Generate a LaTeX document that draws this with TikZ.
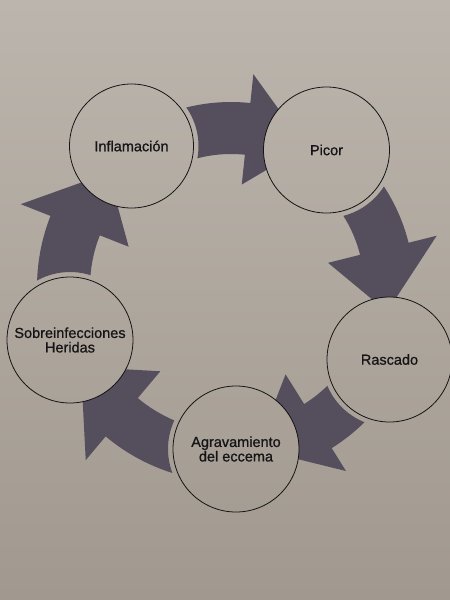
\documentclass[tikz,border=0pt]{standalone}
\usepackage{fontspec}
\newfontfamily\labfont[FakeBold=0.8]{Liberation Sans}
\definecolor{pagetop}{HTML}{BCB5AD}
\definecolor{pagebot}{HTML}{A1998F}
\definecolor{arrowcol}{HTML}{554E5C}
\definecolor{inkcol}{HTML}{151416}
% circle data (pixel units, y downwards)
\def\cxA{131.5}\def\cyA{146}\def\crA{62}
\def\cxB{326.5}\def\cyB{150}\def\crB{63}
\def\cxC{389.5}\def\cyC{359.5}\def\crC{62.5}
\def\cxD{236}\def\cyD{449}\def\crD{63}
\def\cxE{70}\def\cyE{340}\def\crE{63}
\def\ox{231}\def\oy{287}
% #1 source, #2 target, #3 inner r, #4 outer r, #5 tail angle, #6 head base angle,
% #7 inner barb r, #8 outer barb r, #9 tip angle
\newcommand\cyclearrow[9]{%
  \begin{scope}
    \clip (-20,-20) -- (-20,620) -- (470,620) -- (470,-20) -- cycle
      plot[domain=0:360,samples=121] ({\csname cx#1\endcsname+(\csname cr#1\endcsname+5)*cos(\x)},{\csname cy#1\endcsname+(\csname cr#1\endcsname+5)*sin(\x)}) -- cycle
      plot[domain=0:360,samples=121] ({\csname cx#2\endcsname+\csname cr#2\endcsname*cos(\x)},{\csname cy#2\endcsname+\csname cr#2\endcsname*sin(\x)}) -- cycle;
    \fill[arrowshape] plot[domain=#5:#6,samples=40] ({\ox+#4*cos(\x)},{\oy+#4*sin(\x)})
      -- ({\ox+#8*cos(#6)},{\oy+#8*sin(#6)})
      -- ({\ox+(#3+#4)/2*cos(#9)},{\oy+(#3+#4)/2*sin(#9)})
      -- ({\ox+#7*cos(#6)},{\oy+#7*sin(#6)})
      -- plot[domain=#6:#5,samples=40] ({\ox+#3*cos(\x)},{\oy+#3*sin(\x)}) -- cycle;
  \end{scope}}
\tikzset{
  cyclenode/.style={circle, draw=inkcol, line width=0.8pt, inner sep=0pt,
    minimum size=#1, text=inkcol, align=center,
    font=\labfont\fontsize{14.5}{14.5}\selectfont},
  arrowshape/.style={fill=arrowcol},
}
\begin{document}
\begin{tikzpicture}[x=1pt,y=-1pt]
\useasboundingbox (0,0) rectangle (450,600);
\shade[top color=pagetop, bottom color=pagebot] (0,0) rectangle (450,600);
% arrows
\cyclearrow{A}{B}{133}{185}{-125}{-84}{103}{214}{-62}
\cyclearrow{B}{C}{133}{183}{-55}{-14}{100}{212}{9}
\cyclearrow{C}{D}{138}{190}{25}{58}{103}{217}{81}
\cyclearrow{D}{E}{145}{195}{88}{130}{110}{226}{152}
\cyclearrow{E}{A}{141}{194}{160}{201.5}{110}{226}{223}
% circles
\node[cyclenode=124pt] (cA) at (\cxA,\cyA) {Inflamación};
\node[cyclenode=126pt] (cB) at (\cxB,\cyB) {Picor};
\node[cyclenode=125pt] (cC) at (\cxC,\cyC) {Rascado};
\node[cyclenode=126pt] (cD) at (\cxD,\cyD) {Agravamiento\\del eccema};
\node[cyclenode=126pt] (cE) at (\cxE,\cyE) {Sobreinfecciones\\Heridas};
\end{tikzpicture}
\end{document}
